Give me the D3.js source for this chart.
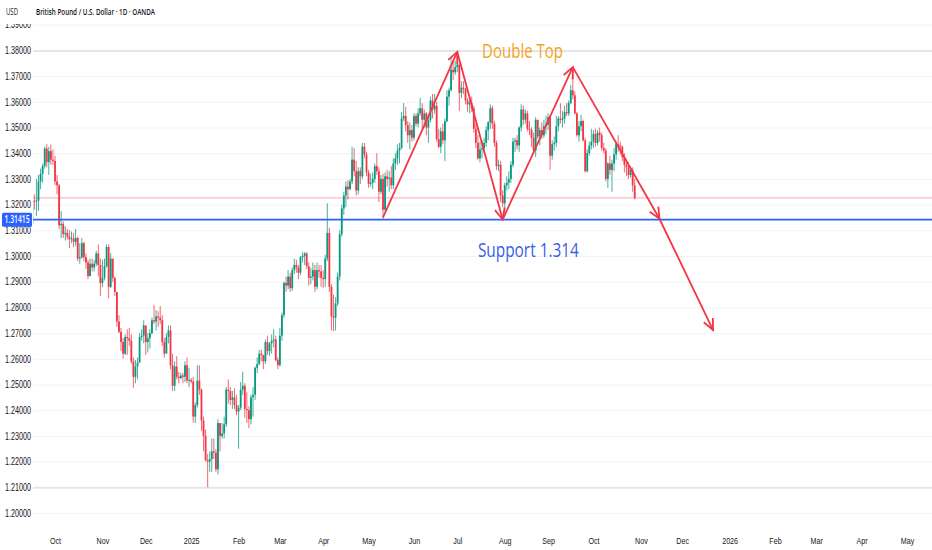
<!DOCTYPE html>
<html>
<head>
<meta charset="utf-8">
<script src="https://cdn.jsdelivr.net/npm/d3@7"></script>
<style>
  html, body { margin: 0; padding: 0; background: #fff; }
  svg { display: block; font-family: "Open Sans", sans-serif; }
</style>
</head>
<body>
<div id="chart"></div>
<script>
// GBP/USD daily candles, one row per weekday: [high, low, close]
// open of each day = close of the day before
var firstOpen = 1.3125;
var sep24 = [
  [1.3230,1.3120,1.3215],[1.3240,1.3180,1.3212],[1.3300,1.3155,1.3215],[1.3315,1.3175,1.3290],[1.3340,1.3260,1.3320],
  [1.3360,1.3285,1.3350],[1.3425,1.3340,1.3418],[1.3435,1.3345,1.3365],[1.3425,1.3315,1.3408],[1.3434,1.3355,1.3375],
  [1.3415,1.3355,1.3370]];
var oct24 = [
  [1.3390,1.3275,1.3290],[1.3315,1.3240,1.3275],[1.3280,1.3105,1.3120],[1.3175,1.3070,1.3125],
  [1.3135,1.3070,1.3085],[1.3115,1.3060,1.3090],[1.3105,1.3065,1.3075],[1.3100,1.3030,1.3065],[1.3095,1.3050,1.3068],
  [1.3090,1.3035,1.3055],[1.3105,1.3040,1.3070],[1.3075,1.2980,1.2990],[1.3050,1.2970,1.2995],[1.3070,1.2990,1.3050],
  [1.3055,1.2980,1.2995],[1.3010,1.2950,1.2975],[1.2985,1.2910,1.2922],[1.2990,1.2920,1.2970],[1.2990,1.2940,1.2955],
  [1.2985,1.2940,1.2970],[1.3020,1.2960,1.3010],[1.3045,1.2920,1.2965],[1.2990,1.2845,1.2895]];
var nov24 = [
  [1.2985,1.2880,1.2915],
  [1.2990,1.2905,1.2960],[1.3045,1.2955,1.3035],[1.3045,1.2835,1.2880],[1.3010,1.2875,1.2990],[1.2985,1.2900,1.2915],
  [1.2920,1.2845,1.2860],[1.2860,1.2725,1.2745],[1.2770,1.2700,1.2705],[1.2720,1.2630,1.2665],[1.2680,1.2600,1.2620],
  [1.2695,1.2615,1.2685],[1.2715,1.2615,1.2680],[1.2720,1.2650,1.2670],[1.2695,1.2580,1.2590],[1.2605,1.2487,1.2530],
  [1.2595,1.2505,1.2570],[1.2605,1.2520,1.2585],[1.2700,1.2585,1.2685],[1.2715,1.2670,1.2690],[1.2750,1.2660,1.2730]];
var dec24 = [
  [1.2725,1.2615,1.2665],[1.2700,1.2625,1.2680],[1.2715,1.2640,1.2700],[1.2760,1.2695,1.2750],[1.2810,1.2735,1.2745],
  [1.2790,1.2710,1.2765],[1.2785,1.2725,1.2760],[1.2805,1.2735,1.2750],[1.2770,1.2650,1.2665],[1.2680,1.2605,1.2620],
  [1.2700,1.2620,1.2685],[1.2730,1.2660,1.2710],[1.2730,1.2560,1.2575],[1.2620,1.2475,1.2495],[1.2590,1.2475,1.2570],
  [1.2610,1.2520,1.2530],[1.2550,1.2505,1.2525],[1.2545,1.2520,1.2535],[1.2545,1.2505,1.2530],[1.2590,1.2510,1.2575],
  [1.2605,1.2505,1.2515],[1.2565,1.2490,1.2518]];
var jan25 = [
  [1.2525,1.2505,1.2512],[1.2530,1.2352,1.2375],[1.2430,1.2350,1.2420],
  [1.2575,1.2410,1.2515],[1.2575,1.2460,1.2480],[1.2485,1.2320,1.2360],[1.2375,1.2240,1.2300],[1.2325,1.2200,1.2205],
  [1.2230,1.2100,1.2200],[1.2240,1.2160,1.2210],[1.2290,1.2160,1.2240],[1.2290,1.2210,1.2235],[1.2250,1.2160,1.2170],
  [1.2365,1.2150,1.2350],[1.2350,1.2240,1.2300],[1.2350,1.2290,1.2310],[1.2375,1.2290,1.2345],[1.2490,1.2335,1.2480],
  [1.2520,1.2425,1.2475],[1.2490,1.2420,1.2440],[1.2475,1.2405,1.2450],[1.2485,1.2405,1.2420],[1.2460,1.2380,1.2395]];
var feb25 = [
  [1.2420,1.2250,1.2410],[1.2510,1.2400,1.2480],[1.2550,1.2460,1.2495],[1.2505,1.2370,1.2405],[1.2470,1.2350,1.2400],
  [1.2415,1.2330,1.2365],[1.2460,1.2345,1.2450],[1.2490,1.2375,1.2460],[1.2570,1.2440,1.2565],[1.2605,1.2545,1.2580],
  [1.2635,1.2575,1.2620],[1.2635,1.2590,1.2615],[1.2615,1.2560,1.2590],[1.2675,1.2580,1.2665],[1.2690,1.2615,1.2630],
  [1.2665,1.2610,1.2660],[1.2695,1.2620,1.2670],[1.2715,1.2645,1.2675],[1.2690,1.2590,1.2595],[1.2605,1.2560,1.2575]];
var mar25 = [
  [1.2720,1.2570,1.2690],[1.2780,1.2670,1.2770],[1.2900,1.2760,1.2895],[1.2920,1.2860,1.2885],[1.2945,1.2870,1.2920],
  [1.2935,1.2860,1.2875],[1.2955,1.2865,1.2945],[1.2990,1.2930,1.2965],[1.2985,1.2935,1.2955],[1.2965,1.2910,1.2935],
  [1.3000,1.2925,1.2995],[1.3015,1.2975,1.3000],[1.3015,1.2965,1.3010],[1.3015,1.2950,1.2960],[1.2975,1.2885,1.2915],
  [1.2955,1.2890,1.2920],[1.2975,1.2905,1.2945],[1.2965,1.2860,1.2880],[1.2975,1.2870,1.2945],[1.2965,1.2915,1.2940],
  [1.2965,1.2880,1.2915]];
var apr25 = [
  [1.2945,1.2875,1.2910],[1.3005,1.2880,1.2990],[1.3205,1.2980,1.3090],[1.3110,1.2860,1.2880],
  [1.2890,1.2710,1.2765],[1.2850,1.2708,1.2760],[1.2840,1.2710,1.2815],[1.2935,1.2805,1.2920],[1.3100,1.2905,1.3085],
  [1.3200,1.3075,1.3185],[1.3250,1.3160,1.3235],[1.3290,1.3190,1.3270],[1.3295,1.3220,1.3260],[1.3300,1.3255,1.3290],
  [1.3425,1.3280,1.3375],[1.3420,1.3310,1.3330],[1.3370,1.3235,1.3255],[1.3345,1.3240,1.3330],[1.3345,1.3280,1.3310],
  [1.3440,1.3300,1.3425],[1.3440,1.3380,1.3395],[1.3405,1.3310,1.3325]];
var may25 = [
  [1.3335,1.3265,1.3280],[1.3320,1.3270,1.3285],
  [1.3325,1.3260,1.3300],[1.3360,1.3285,1.3350],[1.3400,1.3315,1.3330],[1.3345,1.3210,1.3250],[1.3315,1.3240,1.3300],
  [1.3320,1.3140,1.3180],[1.3325,1.3175,1.3310],[1.3335,1.3270,1.3300],[1.3330,1.3250,1.3305],[1.3350,1.3260,1.3275],
  [1.3380,1.3260,1.3360],[1.3400,1.3335,1.3380],[1.3435,1.3355,1.3410],[1.3440,1.3360,1.3420],[1.3560,1.3415,1.3535],
  [1.3595,1.3525,1.3545],[1.3580,1.3485,1.3510],[1.3525,1.3440,1.3470],[1.3520,1.3415,1.3490],[1.3510,1.3445,1.3460]];
var jun25 = [
  [1.3555,1.3450,1.3545],[1.3555,1.3505,1.3515],[1.3575,1.3500,1.3555],[1.3615,1.3545,1.3575],[1.3595,1.3495,1.3530],
  [1.3570,1.3500,1.3555],[1.3560,1.3470,1.3500],[1.3545,1.3440,1.3530],[1.3620,1.3520,1.3605],[1.3630,1.3535,1.3570],
  [1.3630,1.3555,1.3585],[1.3600,1.3445,1.3455],[1.3495,1.3420,1.3425],[1.3500,1.3400,1.3485],[1.3515,1.3435,1.3450],
  [1.3535,1.3370,1.3525],[1.3645,1.3520,1.3620],[1.3655,1.3585,1.3645],[1.3770,1.3640,1.3725],[1.3755,1.3685,1.3715],
  [1.3760,1.3705,1.3735]];
var jul25 = [
  [1.3790,1.3715,1.3745],[1.3750,1.3565,1.3635],[1.3680,1.3615,1.3655],[1.3680,1.3630,1.3650],
  [1.3655,1.3590,1.3605],[1.3615,1.3560,1.3590],[1.3620,1.3555,1.3595],[1.3620,1.3560,1.3575],[1.3585,1.3480,1.3495],
  [1.3515,1.3420,1.3440],[1.3470,1.3375,1.3380],[1.3445,1.3365,1.3415],[1.3450,1.3380,1.3420],[1.3460,1.3400,1.3440],
  [1.3505,1.3425,1.3490],[1.3525,1.3450,1.3520],[1.3590,1.3495,1.3575],[1.3585,1.3495,1.3515],[1.3525,1.3425,1.3440],
  [1.3450,1.3335,1.3350],[1.3375,1.3330,1.3355],[1.3370,1.3210,1.3235],[1.3255,1.3190,1.3205]];
var aug25 = [
  [1.3285,1.3165,1.3275],
  [1.3310,1.3255,1.3285],[1.3330,1.3260,1.3300],[1.3370,1.3285,1.3355],[1.3460,1.3345,1.3445],[1.3460,1.3405,1.3450],
  [1.3470,1.3415,1.3430],[1.3505,1.3405,1.3500],[1.3590,1.3485,1.3570],[1.3585,1.3510,1.3530],[1.3570,1.3515,1.3555],
  [1.3565,1.3485,1.3495],[1.3525,1.3470,1.3490],[1.3500,1.3425,1.3460],[1.3480,1.3395,1.3410],[1.3540,1.3385,1.3530],
  [1.3530,1.3455,1.3465],[1.3500,1.3430,1.3490],[1.3520,1.3455,1.3470],[1.3530,1.3460,1.3505],[1.3545,1.3475,1.3510]];
var sep25 = [
  [1.3555,1.3490,1.3540],[1.3540,1.3335,1.3390],[1.3450,1.3375,1.3435],[1.3465,1.3410,1.3440],[1.3545,1.3425,1.3505],
  [1.3545,1.3485,1.3535],[1.3595,1.3515,1.3530],[1.3565,1.3500,1.3535],[1.3585,1.3515,1.3560],[1.3595,1.3545,1.3555],
  [1.3605,1.3545,1.3595],[1.3665,1.3590,1.3645],[1.3726,1.3610,1.3625],[1.3640,1.3550,1.3555],[1.3560,1.3465,1.3470],
  [1.3525,1.3445,1.3505],[1.3550,1.3485,1.3525],[1.3530,1.3445,1.3450],[1.3460,1.3325,1.3330],[1.3415,1.3325,1.3400],
  [1.3445,1.3390,1.3430],[1.3495,1.3415,1.3445]];
var oct25 = [
  [1.3490,1.3420,1.3475],[1.3495,1.3425,1.3440],[1.3490,1.3430,1.3480],
  [1.3500,1.3445,1.3470],[1.3480,1.3410,1.3420],[1.3440,1.3400,1.3410],[1.3420,1.3290,1.3300],[1.3365,1.3265,1.3360],
  [1.3390,1.3315,1.3335],[1.3375,1.3250,1.3360],[1.3420,1.3330,1.3395],[1.3445,1.3375,1.3435],[1.3470,1.3405,1.3430],
  [1.3445,1.3395,1.3425],[1.3430,1.3370,1.3385],[1.3400,1.3325,1.3355],[1.3375,1.3310,1.3345],[1.3365,1.3300,1.3315],
  [1.3350,1.3305,1.3335],[1.3345,1.3250,1.3275],[1.3300,1.3220,1.3226]];

var firstDay = "2024-09-16";

// price scale labels
var yTicks = [1.20, 1.21, 1.22, 1.23, 1.24, 1.25, 1.26, 1.27, 1.28, 1.29,
              1.30, 1.31, 1.32, 1.33, 1.34, 1.35, 1.36, 1.37, 1.38, 1.39];
// time scale labels (first weekday of each month)
var xTickMonths = ["2024-10","2024-11","2024-12","2025-01","2025-02","2025-03","2025-04","2025-05","2025-06","2025-07",
                   "2025-08","2025-09","2025-10","2025-11","2025-12","2026-01","2026-02","2026-03","2026-04","2026-05"];
var xTickLabels = ["Oct","Nov","Dec","2025","Feb","Mar","Apr","May","Jun","Jul",
                   "Aug","Sep","Oct","Nov","Dec","2026","Feb","Mar","Apr","May"];

// drawn pattern (double top + projection)
var patternDates  = ["2025-05-12","2025-07-01","2025-07-31","2025-09-17","2025-11-14","2025-12-22"];
var patternPrices = [1.3150, 1.3794, 1.3142, 1.3735, 1.3145, 1.2712];
var supportLevel = 1.31415;

var width = 932, height = 550;
var plotLeft = 33, plotTop = 22, plotBottom = 526;

var parseDay = d3.utcParse("%Y-%m-%d");
var parseMonth = d3.utcParse("%Y-%m");

// weekday calendar -> bar index (forex has no weekend bars)
var days = d3.utcDays(parseDay(firstDay), parseDay("2026-06-01"))
  .filter(function(d) { return d.getUTCDay() !== 0 && d.getUTCDay() !== 6; });
var indexOf = function(date) {
  return d3.bisectLeft(days.map(Number), +date);
};

var rows = [].concat(sep24, oct24, nov24, dec24, jan25, feb25, mar25, apr25,
                     may25, jun25, jul25, aug25, sep25, oct25);
var data = rows.map(function(r, i) {
  return { i: i, date: days[i], open: i ? rows[i - 1][2] : firstOpen,
           high: r[0], low: r[1], close: r[2] };
});
var lastClose = data[data.length - 1].close;

var x = d3.scaleLinear()
  .domain([indexOf(parseDay("2024-10-01")), indexOf(parseDay("2026-05-01"))])
  .range([55, 907]);

var y = d3.scaleLinear()
  .domain([1.20, 1.38])
  .range([513, 50.4]);

var svg = d3.select("#chart").append("svg")
  .attr("width", width)
  .attr("height", height);

svg.append("defs").append("clipPath").attr("id", "plot")
  .append("rect")
  .attr("x", plotLeft).attr("y", plotTop)
  .attr("width", width - plotLeft).attr("height", plotBottom - plotTop);

var arrow = svg.select("defs").append("marker")
  .attr("id", "arrow")
  .attr("markerUnits", "userSpaceOnUse")
  .attr("markerWidth", 14).attr("markerHeight", 14)
  .attr("viewBox", "-1 -1 14 12")
  .attr("refX", 11).attr("refY", 5)
  .attr("orient", "auto");
arrow.append("path")
  .attr("d", "M0,0 L11,5 L0,10")
  .attr("fill", "none")
  .attr("stroke", "#f23645")
  .attr("stroke-width", 1.8);

// grid
svg.append("g")
  .attr("class", "grid")
  .attr("transform", "translate(" + plotLeft + ",0)")
  .call(d3.axisRight(y).tickValues(yTicks).tickSize(width - plotLeft).tickFormat(""))
  .call(function(g) { g.select(".domain").remove(); })
  .selectAll("line")
  .attr("stroke", function(d) { return (d === 1.38 || d === 1.21) ? "#e3e5ea" : "#f2f3f6"; })
  .attr("stroke-width", function(d) { return (d === 1.38 || d === 1.21) ? 2 : 1; });

var plot = svg.append("g").attr("clip-path", "url(#plot)");

// last price line
plot.append("line")
  .attr("x1", plotLeft).attr("x2", width)
  .attr("y1", y(lastClose)).attr("y2", y(lastClose))
  .attr("stroke", "#f7a9b0")
  .attr("stroke-width", 1);

// candles
var candle = plot.append("g").selectAll("g")
  .data(data)
  .enter().append("g")
  .attr("fill", function(d) { return d.close >= d.open ? "#089981" : "#f23645"; })
  .attr("stroke", function(d) { return d.close >= d.open ? "#089981" : "#f23645"; });

candle.append("line")
  .attr("x1", function(d) { return x(d.i); })
  .attr("x2", function(d) { return x(d.i); })
  .attr("y1", function(d) { return y(d.high); })
  .attr("y2", function(d) { return y(d.low); })
  .attr("stroke-width", 0.9)
  .attr("stroke-opacity", 0.85);

candle.append("rect")
  .attr("stroke", "none")
  .attr("x", function(d) { return x(d.i) - 0.9; })
  .attr("width", 1.8)
  .attr("y", function(d) { return y(Math.max(d.open, d.close)); })
  .attr("height", function(d) { return Math.max(0.8, Math.abs(y(d.open) - y(d.close))); });

// support line
plot.append("line")
  .attr("x1", plotLeft).attr("x2", width)
  .attr("y1", y(supportLevel)).attr("y2", y(supportLevel))
  .attr("stroke", "#2962ff")
  .attr("stroke-width", 1.8);

// double top zig-zag with arrows on every leg
var pts = patternDates.map(function(d, k) {
  return [x(indexOf(parseDay(d))), y(patternPrices[k])];
});
for (var k = 0; k < pts.length - 1; k++) {
  plot.append("line")
    .attr("x1", pts[k][0]).attr("y1", pts[k][1])
    .attr("x2", pts[k + 1][0]).attr("y2", pts[k + 1][1])
    .attr("stroke", "#f23645")
    .attr("stroke-width", 1.8)
    .attr("marker-end", "url(#arrow)");
}

// annotations
plot.append("text")
  .attr("x", x(indexOf(parseDay("2025-07-17"))))
  .attr("y", y(1.3770))
  .attr("fill", "#f7a21b")
  .style("font-size", "20px")
  .attr("textLength", 81)
  .attr("lengthAdjust", "spacingAndGlyphs")
  .text("Double Top");

plot.append("text")
  .attr("x", x(indexOf(parseDay("2025-07-15"))))
  .attr("y", y(1.2996))
  .attr("fill", "#3a5ee8")
  .style("font-size", "20px")
  .attr("textLength", 101)
  .attr("lengthAdjust", "spacingAndGlyphs")
  .text("Support 1.314");

// price scale
var yAxis = svg.append("g")
  .attr("class", "y axis")
  .call(d3.axisRight(y).tickValues(yTicks).tickSize(0).tickPadding(5).tickFormat(d3.format(".5f")));
yAxis.select(".domain").remove();
yAxis.selectAll("text")
  .attr("fill", "#131722")
  .style("font-size", "10px")
  .attr("textLength", 26)
  .attr("lengthAdjust", "spacingAndGlyphs");

// support price tag
svg.append("rect")
  .attr("x", 2).attr("y", y(supportLevel) - 7)
  .attr("width", 30).attr("height", 14)
  .attr("rx", 1.5)
  .attr("fill", "#2962ff");
svg.append("text")
  .attr("x", 17).attr("y", y(supportLevel))
  .attr("dy", "0.35em")
  .attr("text-anchor", "middle")
  .attr("fill", "#fff")
  .style("font-size", "10px")
  .style("font-weight", "600")
  .attr("textLength", 25)
  .attr("lengthAdjust", "spacingAndGlyphs")
  .text(d3.format(".5f")(supportLevel));

// time scale
var xAxis = svg.append("g")
  .attr("class", "x axis")
  .attr("transform", "translate(0,534)")
  .call(d3.axisBottom(x)
    .tickValues(xTickMonths.map(function(m) { return indexOf(parseMonth(m)); }))
    .tickSize(0)
    .tickFormat(function(d, i) { return xTickLabels[i]; }));
xAxis.select(".domain").remove();
xAxis.selectAll("text")
  .attr("fill", "#131722")
  .style("font-size", "9.5px")
  .each(function() {
    var w = this.getComputedTextLength();
    d3.select(this).attr("textLength", w * 0.75).attr("lengthAdjust", "spacingAndGlyphs");
  });

// header band (hides the top of the 1.39 label, as in the original)
svg.append("rect")
  .attr("x", 0).attr("y", 0).attr("width", width).attr("height", 24)
  .attr("fill", "#fff");
svg.append("text")
  .attr("x", 6).attr("y", 15)
  .attr("fill", "#131722")
  .style("font-size", "9px")
  .attr("textLength", 12)
  .attr("lengthAdjust", "spacingAndGlyphs")
  .text("USD");
svg.append("text")
  .attr("x", 36).attr("y", 15)
  .attr("fill", "#131722")
  .style("font-size", "9px")
  .style("font-weight", "600")
  .attr("textLength", 119)
  .attr("lengthAdjust", "spacingAndGlyphs")
  .text("British Pound / U.S. Dollar · 1D · OANDA");
</script>
</body>
</html>
